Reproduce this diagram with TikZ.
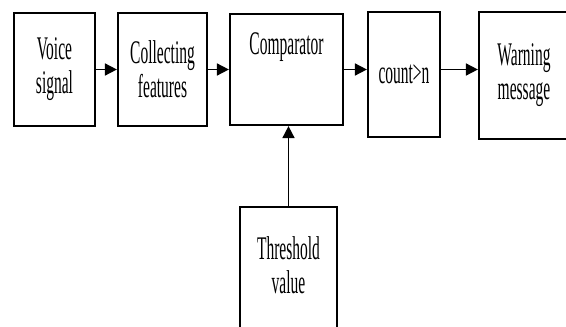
\documentclass[tikz,border=0pt]{standalone}
\usepackage{fontspec}
\newfontfamily\cond[FakeStretch=0.47]{Liberation Serif}
\usetikzlibrary{arrows.meta}
\begin{document}
\begin{tikzpicture}[x=1pt,y=-1pt,
  blk/.style={draw, line width=2.2pt, inner sep=0pt, align=center,
    font=\cond\fontsize{33}{34}\selectfont},
  lbl/.style={align=center, font=\cond\fontsize{33}{34}\selectfont},
  flow/.style={line width=1.7pt, -{Triangle[length=12pt,width=12pt]}}]
\useasboundingbox (0,0) rectangle (566,327);

% processing chain
\node[blk, minimum width=81pt,  minimum height=113pt] (voice) at (54.5,69.5)  {Voice\\signal};
\node[blk, minimum width=89pt,  minimum height=113pt] (feat)  at (162.5,69.5) {Collecting\\features};
\node[blk, minimum width=113pt, minimum height=111pt,
      label={[lbl, anchor=north, yshift=-16pt]north:Comparator}] (comp) at (286.5,69.5) {};
\node[blk, minimum width=72pt,  minimum height=125pt] (count) at (404,74.5)   {count>n};
\node[blk, minimum width=90pt,  minimum height=127pt] (warn)  at (524,75.5)   {Warning\\message};

% threshold input
\node[blk, minimum width=97pt, minimum height=128pt,
      label={[lbl, yshift=6pt]center:Threshold\\value}] (thr) at (288.5,271) {};

% connectors
\draw[flow] (voice.east) -- (feat.west);
\draw[flow] (feat.east) -- (comp.west);
\draw[flow] (comp.east) -- (comp.east -| count.west);
\draw[flow] (count.east |- comp.east) -- (warn.west |- comp.east);
\draw[flow] (thr.north) -- (thr.north |- comp.south);
\end{tikzpicture}
\end{document}
